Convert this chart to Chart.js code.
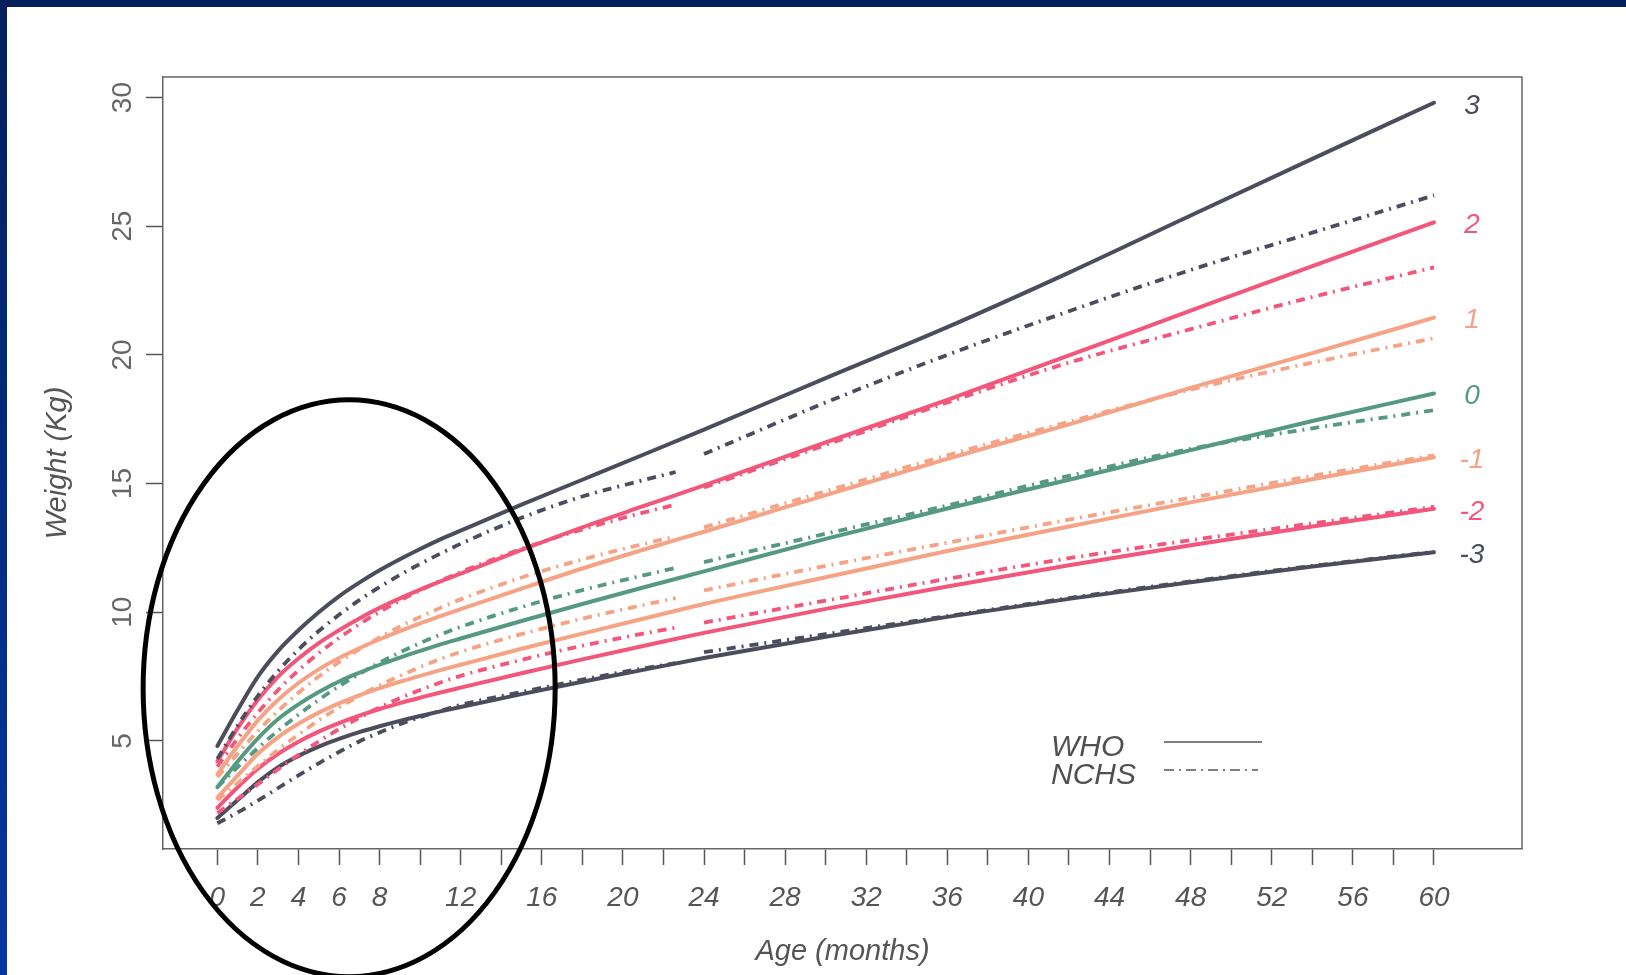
<!DOCTYPE html>
<html>
<head>
<meta charset="utf-8">
<script src="https://cdn.jsdelivr.net/npm/chart.js@4.4.1/dist/chart.umd.min.js"></script>
<style>
  html, body { margin: 0; padding: 0; background: #fff; }
  #wrap { position: relative; width: 1626px; height: 975px; overflow: hidden; }
  #chart { position: absolute; left: 0; top: 0; }
  .band-top { position: absolute; left: 0; top: 0; width: 1626px; height: 7px; background: #03205c; }
  .band-left { position: absolute; left: 0; top: 0; width: 7px; height: 975px; background: linear-gradient(#03205c, #0636a4); }
</style>
</head>
<body>
<div id="wrap">
  <canvas id="chart" width="1626" height="975"></canvas>
  <div class="band-top"></div>
  <div class="band-left"></div>
</div>
<script>
// months (x) and weights in kg (y)
const whoMonths = [0, 1, 2, 3, 4, 5, 6, 7, 8, 9, 10, 11, 12, 15, 18, 21, 24, 30, 36, 42, 48, 54, 60];
const whoP3  = [4.8, 6.2, 7.5, 8.5, 9.3, 10.0, 10.62, 11.15, 11.63, 12.06, 12.46, 12.83, 13.17, 14.18, 15.15, 16.12, 17.1, 19.1, 21.08, 23.2, 25.42, 27.62, 29.8];
const whoP2  = [4.2, 5.5, 6.6, 7.5, 8.2, 8.8, 9.3, 9.76, 10.17, 10.54, 10.88, 11.2, 11.5, 12.42, 13.3, 14.12, 14.93, 16.6, 18.25, 19.98, 21.72, 23.45, 25.15];
const whoP1  = [3.7, 4.8, 5.8, 6.6, 7.25, 7.78, 8.22, 8.6, 8.95, 9.27, 9.57, 9.85, 10.12, 10.92, 11.7, 12.43, 13.13, 14.55, 15.96, 17.3, 18.72, 20.07, 21.45];
const whoMed = [3.2, 4.2, 5.1, 5.85, 6.42, 6.9, 7.31, 7.65, 7.96, 8.24, 8.5, 8.75, 8.98, 9.66, 10.32, 10.96, 11.59, 12.85, 14.03, 15.15, 16.3, 17.43, 18.5];
const whoM1  = [2.8, 3.65, 4.5, 5.15, 5.67, 6.1, 6.46, 6.77, 7.05, 7.3, 7.53, 7.75, 7.96, 8.58, 9.17, 9.75, 10.32, 11.36, 12.38, 13.33, 14.27, 15.17, 16.02];
const whoM2  = [2.4, 3.2, 3.92, 4.5, 4.97, 5.36, 5.69, 5.98, 6.24, 6.47, 6.68, 6.88, 7.07, 7.63, 8.17, 8.69, 9.2, 10.13, 11.0, 11.83, 12.6, 13.33, 14.02];
const whoM3  = [2.0, 2.7, 3.4, 3.98, 4.42, 4.78, 5.08, 5.34, 5.57, 5.78, 5.97, 6.15, 6.32, 6.82, 7.3, 7.76, 8.22, 9.05, 9.82, 10.52, 11.17, 11.78, 12.33];

// NCHS infant curves (stop just before 24 months)
const nchsInfMonths = [0, 1, 2, 3, 4, 5, 6, 7, 8, 9, 10, 11, 12, 15, 18, 21, 22.6];
const nchsInfP3  = [4.3, 5.6, 6.75, 7.72, 8.55, 9.27, 9.9, 10.47, 10.98, 11.45, 11.88, 12.28, 12.66, 13.67, 14.5, 15.13, 15.45];
const nchsInfP2  = [4.0, 5.1, 6.1, 6.98, 7.74, 8.41, 9.0, 9.53, 10.01, 10.45, 10.85, 11.22, 11.56, 12.46, 13.22, 13.87, 14.18];
const nchsInfP1  = [3.6, 4.5, 5.38, 6.17, 6.87, 7.5, 8.06, 8.56, 9.02, 9.44, 9.82, 10.17, 10.5, 11.35, 12.05, 12.65, 12.95];
const nchsInfMed = [3.2, 3.98, 4.72, 5.4, 6.02, 6.6, 7.12, 7.6, 8.04, 8.44, 8.8, 9.13, 9.43, 10.2, 10.86, 11.43, 11.72];
const nchsInfM1  = [2.7, 3.36, 4.02, 4.66, 5.25, 5.8, 6.3, 6.75, 7.16, 7.53, 7.87, 8.18, 8.46, 9.15, 9.75, 10.28, 10.55];
const nchsInfM2  = [2.2, 2.75, 3.32, 3.9, 4.46, 4.98, 5.46, 5.9, 6.3, 6.66, 6.98, 7.27, 7.53, 8.15, 8.7, 9.17, 9.4];
const nchsInfM3  = [1.8, 2.22, 2.68, 3.17, 3.66, 4.13, 4.57, 4.98, 5.33, 5.65, 5.92, 6.17, 6.4, 6.9, 7.38, 7.82, 8.02];

// NCHS child curves (from 24 months)
const nchsChMonths = [24, 30, 36, 42, 48, 54, 60];
const nchsChP3  = [16.15, 18.15, 20.0, 21.7, 23.3, 24.75, 26.2];
const nchsChP2  = [14.85, 16.5, 18.15, 19.7, 21.0, 22.25, 23.4];
const nchsChP1  = [13.3, 14.7, 16.1, 17.4, 18.65, 19.7, 20.65];
const nchsChMed = [11.95, 13.05, 14.15, 15.3, 16.35, 17.15, 17.85];
const nchsChM1  = [10.85, 11.8, 12.7, 13.6, 14.45, 15.3, 16.1];
const nchsChM2  = [9.6, 10.45, 11.3, 12.1, 12.8, 13.45, 14.1];
const nchsChM3  = [8.45, 9.15, 9.85, 10.55, 11.2, 11.8, 12.35];

const zLabels = ['3', '2', '1', '0', '-1', '-2', '-3'];
const xTickValues = [0, 2, 4, 6, 8, 10, 12, 14, 16, 18, 20, 22, 24, 26, 28, 30, 32, 34, 36, 38, 40, 42, 44, 46, 48, 50, 52, 54, 56, 58, 60];
const xLabelValues = [0, 2, 4, 6, 8, 12, 16, 20, 24, 28, 32, 36, 40, 44, 48, 52, 56, 60];
const yTickValues = [5, 10, 15, 20, 25, 30];

const DARK = '#4b4d5d';
const PINK = '#f2567a';
const SALMON = '#f6a284';
const GREEN = '#559a80';
const zColors = [DARK, PINK, SALMON, GREEN, SALMON, PINK, DARK];

const whoSeries = [whoP3, whoP2, whoP1, whoMed, whoM1, whoM2, whoM3];
const nchsInfSeries = [nchsInfP3, nchsInfP2, nchsInfP1, nchsInfMed, nchsInfM1, nchsInfM2, nchsInfM3];
const nchsChSeries = [nchsChP3, nchsChP2, nchsChP1, nchsChMed, nchsChM1, nchsChM2, nchsChM3];

function line(label, months, values, color, dashed) {
  return {
    label: label,
    data: months.map((m, i) => ({x: m, y: values[i]})),
    borderColor: color,
    borderWidth: dashed ? 3.8 : 4,
    borderDash: dashed ? [9, 6, 2, 6] : [],
    borderCapStyle: dashed ? 'butt' : 'round',
    cubicInterpolationMode: 'monotone',
    pointRadius: 0,
    fill: false,
  };
}

const datasets = [];
zLabels.forEach((z, i) => {
  datasets.push(line('NCHS ' + z, nchsInfMonths, nchsInfSeries[i], zColors[i], true));
  datasets.push(line('NCHS ' + z, nchsChMonths, nchsChSeries[i], zColors[i], true));
});
zLabels.forEach((z, i) => {
  datasets.push(line('WHO ' + z, whoMonths, whoSeries[i], zColors[i], false));
});

const FONT = '"Liberation Sans", Arial, sans-serif';

const extras = {
  id: 'extras',
  afterDraw(chart) {
    const {ctx, chartArea: a, scales: {x, y}} = chart;
    ctx.save();

    // top and right sides of the plot box
    ctx.strokeStyle = '#666';
    ctx.lineWidth = 1.5;
    ctx.beginPath();
    ctx.moveTo(a.left, a.top);
    ctx.lineTo(a.right, a.top);
    ctx.lineTo(a.right, a.bottom);
    ctx.stroke();

    // rotated y tick labels
    ctx.fillStyle = '#666';
    ctx.font = '28px ' + FONT;
    ctx.textAlign = 'center';
    ctx.textBaseline = 'middle';
    yTickValues.forEach(v => {
      ctx.save();
      ctx.translate(a.left - 40, y.getPixelForValue(v));
      ctx.rotate(-Math.PI / 2);
      ctx.fillText(String(v), 0, 0);
      ctx.restore();
    });

    // z-score labels at the end of the WHO curves
    ctx.font = 'italic 28px ' + FONT;
    zLabels.forEach((z, i) => {
      const s = whoSeries[i];
      ctx.fillStyle = zColors[i];
      ctx.fillText(z, x.getPixelForValue(60) + 38, y.getPixelForValue(s[s.length - 1]) + 3);
    });

    // legend
    ctx.fillStyle = '#505050';
    ctx.font = 'italic 30px ' + FONT;
    ctx.textAlign = 'left';
    ctx.fillText('WHO', 1051, 748);
    ctx.fillText('NCHS', 1051, 776);
    ctx.strokeStyle = '#555';
    ctx.lineWidth = 1.4;
    ctx.beginPath();
    ctx.moveTo(1164, 742);
    ctx.lineTo(1262, 742);
    ctx.stroke();
    ctx.setLineDash([10, 5, 2, 5]);
    ctx.beginPath();
    ctx.moveTo(1164, 770);
    ctx.lineTo(1258, 770);
    ctx.stroke();
    ctx.setLineDash([]);

    // hand-drawn ellipse around the first months
    const cx = x.getPixelForValue(6.5);
    const cy = y.getPixelForValue(7.05);
    const rx = x.getPixelForValue(16.66) - cx;
    const ry = cy - y.getPixelForValue(18.26);
    ctx.strokeStyle = '#000';
    ctx.lineWidth = 5;
    ctx.beginPath();
    ctx.ellipse(cx, cy, rx, ry, 0, 0, Math.PI * 2);
    ctx.stroke();

    ctx.restore();
  }
};

new Chart(document.getElementById('chart').getContext('2d'), {
  type: 'line',
  data: {datasets: datasets},
  options: {
    responsive: false,
    devicePixelRatio: 1,
    animation: false,
    layout: {padding: {left: 0, right: 104, top: 77, bottom: 0}},
    plugins: {legend: {display: false}, tooltip: {enabled: false}},
    scales: {
      x: {
        type: 'linear',
        min: -2.68,
        max: 64.34,
        afterBuildTicks: s => { s.ticks = xTickValues.map(v => ({value: v})); },
        afterFit: s => { s.height = 126; },
        ticks: {
          autoSkip: false,
          maxRotation: 0,
          padding: 16,
          color: '#555',
          font: {family: FONT, size: 28, style: 'italic'},
          callback: v => (xLabelValues.includes(v) ? String(v) : ''),
        },
        grid: {drawOnChartArea: false, tickLength: 16, tickColor: '#555', tickWidth: 1.5},
        border: {color: '#666', width: 1.5},
        title: {
          display: true,
          text: 'Age (months)',
          color: '#555',
          font: {family: FONT, size: 29, style: 'italic'},
          padding: {top: 0, bottom: 6},
        },
      },
      y: {
        type: 'linear',
        min: 0.8,
        max: 30.8,
        afterBuildTicks: s => { s.ticks = yTickValues.map(v => ({value: v})); },
        afterFit: s => { s.width = 163; },
        ticks: {display: false},
        grid: {drawOnChartArea: false, tickLength: 17, tickColor: '#555', tickWidth: 1.5},
        border: {color: '#666', width: 1.5},
        title: {
          display: true,
          text: 'Weight (Kg)',
          color: '#555',
          font: {family: FONT, size: 29, style: 'italic'},
          padding: {top: 41, bottom: 0},
        },
      },
    },
  },
  plugins: [extras],
});
</script>
</body>
</html>
